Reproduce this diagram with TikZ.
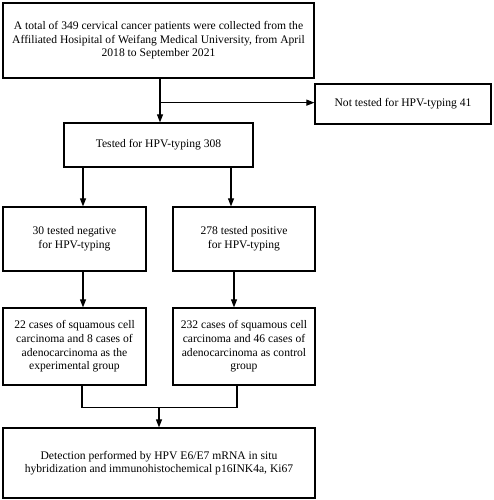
\documentclass[tikz,border=0pt]{standalone}
\usepackage{fontspec}
\setmainfont{Liberation Serif}
\usetikzlibrary{arrows.meta}
\begin{document}
\begin{tikzpicture}[x=1pt,y=-1pt,
  box/.style={draw, line width=1.3pt, align=center, inner sep=0pt, font=\fontsize{11.6}{13.6}\selectfont},
  arr/.style={line width=1.1pt, -{Triangle[length=8pt,width=6pt]}},
  ln/.style={line width=1.1pt}]
\useasboundingbox (0,0) rectangle (494,500);
\node[box, minimum width=311pt, minimum height=75pt] (top) at (158.5,40.5)
  {A total of 349 cervical cancer patients were collected from the\\
   Affiliated Hosipital of Weifang Medical University, from April\\
   2018 to September 2021};
\node[box, minimum width=176pt, minimum height=40pt] (not) at (403,104)
  {Not tested for HPV-typing 41};
\node[box, minimum width=189pt, minimum height=44pt] (tested) at (158.5,145)
  {Tested for HPV-typing 308};
\node[box, minimum width=143pt, minimum height=64pt] (neg) at (74.5,239)
  {30 tested negative\\ for HPV-typing};
\node[box, minimum width=142pt, minimum height=64pt] (pos) at (244,239)
  {278 tested positive\\ for HPV-typing};
\node[box, minimum width=143pt, minimum height=77pt] (sq1) at (74.5,346.5)
  {22 cases of squamous cell\\ carcinoma and 8 cases of\\ adenocarcinoma as the\\ experimental group};
\node[box, minimum width=142pt, minimum height=77pt] (sq2) at (244,346.5)
  {232 cases of squamous cell\\ carcinoma and 46 cases of\\ adenocarcinoma as control\\ group};
\node[box, minimum width=312pt, minimum height=70pt] (bot) at (159,463)
  {Detection performed by HPV E6/E7 mRNA in situ\\ hybridization and immunohistochemical p16INK4a, Ki67};
% connectors
\draw[arr] ([xshift=1.5pt]top.south) -- ([xshift=1.5pt]tested.north);
\coordinate (br) at ([xshift=1.5pt,yshift=-24pt]top.south);
\draw[arr] (br) -- (br -| not.west);
\draw[arr] ([xshift=8.5pt]tested.south -| neg.north) -- ([xshift=8.5pt]neg.north);
\draw[arr] ([xshift=-13pt]tested.south -| pos.north) -- ([xshift=-13pt]pos.north);
\draw[arr] ([xshift=8.5pt]neg.south) -- ([xshift=8.5pt]sq1.north);
\draw[arr] ([xshift=-10pt]pos.south) -- ([xshift=-10pt]sq2.north);
\coordinate (ml) at ([xshift=7.5pt,yshift=-22pt]sq1.south);
\coordinate (mr) at ([xshift=-7pt,yshift=-22pt]sq2.south);
\draw[ln] ([xshift=7.5pt]sq1.south) -- (ml) -- (mr) -- ([xshift=-7pt]sq2.south);
\draw[arr] (ml -| bot.north) -- (bot.north);
\end{tikzpicture}
\end{document}
